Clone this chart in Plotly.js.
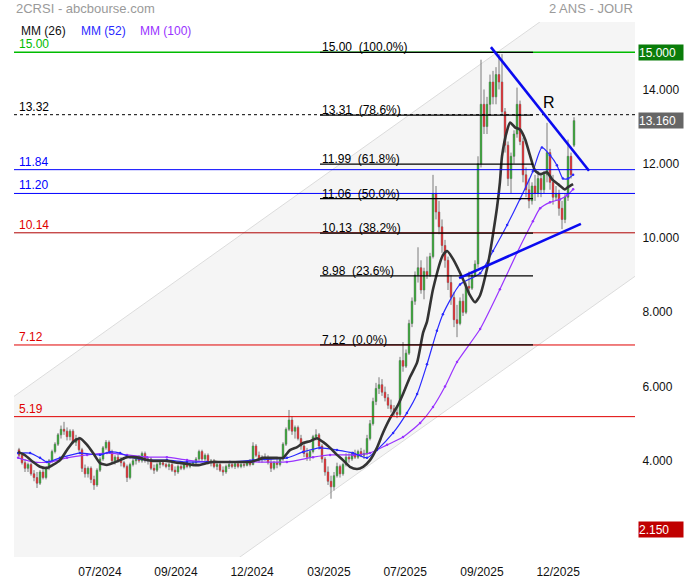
<!DOCTYPE html>
<html><head><meta charset="utf-8">
<script src="https://cdn.plot.ly/plotly-3.0.1.min.js"></script>
<style>html,body{margin:0;padding:0;background:#fff}#chart{width:684px;height:580px}</style>
</head><body><div id="chart"></div>
<script>
// ---- daily bars ----
const opens=[4.30,4.15,3.95,3.80,3.90,3.65,3.55,3.40,3.70,3.55,
3.80,4.00,4.25,4.45,4.70,4.85,4.80,4.65,4.80,4.50,
4.60,4.30,3.80,3.65,3.80,3.50,3.35,3.75,4.05,4.35,
4.50,4.25,4.00,4.10,4.00,3.95,3.85,3.55,3.90,4.00,
4.05,4.00,4.20,4.00,4.05,3.80,3.75,3.90,3.95,3.90,
3.85,3.90,3.75,3.70,3.85,3.80,3.90,3.85,3.90,3.95,
4.05,4.25,4.05,4.15,3.95,4.00,3.85,3.90,3.75,3.70,
3.85,3.90,3.85,3.92,3.85,3.90,3.88,3.95,3.90,4.40,
4.15,4.05,4.10,4.05,3.95,3.80,3.95,3.90,4.05,4.45,
4.85,5.10,4.80,4.90,4.60,4.40,4.20,4.10,4.25,4.65,
4.70,4.40,4.05,3.70,3.45,3.30,3.60,3.85,3.65,3.90,
4.10,4.05,4.20,4.10,4.25,4.15,4.20,4.60,5.00,5.60,
5.95,6.05,5.85,5.70,5.50,5.40,5.30,5.25,6.70,6.55,
6.90,7.70,8.30,9.00,9.20,8.60,9.10,9.00,9.50,11.20,
10.70,10.30,9.80,9.40,8.80,8.40,7.80,7.70,8.30,8.00,
8.70,8.65,9.00,9.30,12.00,13.60,13.00,13.60,14.20,13.80,
14.40,14.20,13.40,12.50,11.60,12.20,12.80,13.60,12.60,11.70,
11.30,11.00,11.40,11.20,11.60,11.30,11.70,12.30,11.50,11.10,
11.20,10.80,10.50,11.10,12.20,12.50];
const highs=[4.35,4.20,4.05,3.95,3.95,3.75,3.70,3.75,3.80,3.85,
4.05,4.30,4.50,4.75,4.95,5.05,4.90,4.85,4.85,4.70,
4.65,4.35,3.90,3.85,3.85,3.60,3.80,4.10,4.40,4.56,
4.55,4.30,4.15,4.20,4.10,4.00,3.90,3.95,4.05,4.10,
4.15,4.25,4.25,4.10,4.10,3.90,3.95,4.00,4.00,3.95,
3.95,3.95,3.85,3.90,3.90,3.95,3.95,3.95,4.00,4.10,
4.30,4.30,4.20,4.20,4.05,4.05,3.95,3.95,3.85,3.90,
3.95,3.95,3.95,3.98,3.95,3.98,4.00,4.05,4.50,4.45,
4.25,4.15,4.20,4.15,4.10,4.00,4.05,4.10,4.50,4.90,
5.37,5.20,4.95,4.95,4.70,4.45,4.35,4.30,4.70,4.85,
4.75,4.45,4.10,3.85,3.60,3.70,3.95,3.90,3.95,4.20,
4.20,4.25,4.30,4.30,4.35,4.30,4.70,5.10,5.70,6.10,
6.25,6.20,6.00,5.80,5.65,5.50,5.45,6.80,7.20,7.00,
7.80,8.40,9.10,9.75,9.40,9.20,9.50,9.60,11.70,11.40,
11.00,10.50,9.95,9.50,9.00,8.55,8.20,8.40,8.50,8.80,
9.10,9.10,9.40,12.20,14.80,14.00,13.80,14.40,14.50,14.60,
14.95,14.95,13.50,12.60,12.30,12.90,14.05,13.70,12.70,11.90,
11.60,11.50,11.70,11.80,11.75,11.80,13.10,12.40,11.70,11.40,
11.30,11.00,11.20,12.65,12.30,13.25];
const lows=[4.10,3.90,3.70,3.70,3.60,3.45,3.27,3.35,3.50,3.50,
3.75,3.95,4.20,4.40,4.60,4.70,4.55,4.55,4.45,4.40,
4.25,3.70,3.55,3.55,3.40,3.22,3.30,3.70,4.00,4.30,
4.20,3.95,3.90,3.95,3.85,3.80,3.43,3.50,3.85,3.90,
3.95,3.95,3.95,3.90,3.75,3.65,3.70,3.80,3.85,3.80,
3.75,3.70,3.60,3.65,3.75,3.75,3.80,3.80,3.85,3.90,
4.00,4.00,3.95,3.90,3.85,3.80,3.75,3.70,3.60,3.65,
3.78,3.80,3.78,3.80,3.80,3.82,3.85,3.85,3.88,4.10,
3.95,3.95,4.00,3.90,3.70,3.75,3.80,3.85,4.00,4.40,
4.80,4.70,4.60,4.55,4.30,4.10,4.00,4.00,4.20,4.55,
4.30,3.95,3.60,3.35,2.98,3.20,3.55,3.55,3.60,3.85,
3.95,4.00,4.05,4.05,4.10,4.05,4.15,4.55,4.95,5.50,
5.80,5.75,5.60,5.40,5.30,5.20,5.15,5.20,6.40,6.50,
6.85,7.60,8.20,8.80,8.50,8.35,8.90,8.95,9.45,10.50,
10.10,9.60,9.20,8.60,8.20,7.60,7.33,7.65,7.90,7.95,
8.50,8.60,8.95,9.20,11.90,12.80,12.80,13.30,13.60,13.60,
14.00,13.30,12.30,11.40,11.20,12.00,12.70,12.50,11.50,11.10,
10.80,10.90,11.00,11.10,11.10,11.20,11.50,11.30,10.90,11.00,
10.60,10.24,10.40,11.00,11.60,12.45];
const closes=[4.15,3.95,3.80,3.90,3.65,3.55,3.40,3.70,3.55,3.80,
4.00,4.25,4.45,4.70,4.85,4.80,4.65,4.80,4.50,4.60,
4.30,3.80,3.65,3.80,3.50,3.35,3.75,4.05,4.35,4.50,
4.25,4.00,4.10,4.00,3.95,3.85,3.55,3.90,4.00,4.05,
4.00,4.20,4.00,4.05,3.80,3.75,3.90,3.95,3.90,3.85,
3.90,3.75,3.70,3.85,3.80,3.90,3.85,3.90,3.95,4.05,
4.25,4.05,4.15,3.95,4.00,3.85,3.90,3.75,3.70,3.85,
3.90,3.85,3.92,3.85,3.90,3.88,3.95,3.90,4.40,4.15,
4.05,4.10,4.05,3.95,3.80,3.95,3.90,4.05,4.45,4.85,
5.10,4.80,4.90,4.60,4.40,4.20,4.10,4.25,4.65,4.70,
4.40,4.05,3.70,3.45,3.30,3.60,3.85,3.65,3.90,4.10,
4.05,4.20,4.10,4.25,4.15,4.20,4.60,5.00,5.60,5.95,
6.05,5.85,5.70,5.50,5.40,5.30,5.25,6.70,6.55,6.90,
7.70,8.30,9.00,9.20,8.60,9.10,9.00,9.50,11.20,10.70,
10.30,9.80,9.40,8.80,8.40,7.80,7.70,8.30,8.00,8.70,
8.65,9.00,9.30,12.00,13.60,13.00,13.60,14.20,13.80,14.40,
14.20,13.40,12.50,11.60,12.20,12.80,13.60,12.60,11.70,11.30,
11.00,11.40,11.20,11.60,11.30,11.70,12.30,11.50,11.10,11.20,
10.80,10.50,11.10,12.20,11.70,13.16];

// ---- moving averages (bar index, value) ----
const mm26Idx=[-0.3,2,4.7,7,9.3,11.3,13.7,16,18,20.3,22.7,24.7,27,29.3,31.3,33.7,36,38,40.3,42.7,44.7,47,49.3,51.3,53.7,56,58,60.3,62.7,64.7,67,70.3,73.7,77,79.3,81.3,83.7,86,88,90.3,92.7,94.7,97,99.3,101.3,103.7,106,108,110.3,112.7,114.7,117,119.3,121.3,123.7,126,128,130.3,132.7,134.7,136,138,141.3,142.7,144.7,148,150.3,152,153.7,156,157,158,159.3,160.3,161,162.7,163.7,165.3,167,168.7,170.3,172,173.7,176,177.7,179.7,182,183,184.7];
const mm26Val=[4.24,4.15,3.97,3.84,3.81,3.89,4.02,4.29,4.51,4.61,4.43,4.21,3.94,3.89,3.94,4.02,4.10,4.10,4.08,4.02,4.00,4.00,4.00,3.97,3.94,3.92,3.89,3.89,3.94,3.97,3.97,3.97,3.97,3.97,4.02,4.08,4.08,4.08,4.08,4.29,4.37,4.48,4.53,4.61,4.51,4.35,4.16,4.02,3.84,3.78,3.84,4.02,4.35,4.75,5.15,5.45,5.80,6.25,6.65,7.45,7.75,8.62,9.54,9.65,9.43,8.89,8.46,8.27,8.46,9.17,9.60,10.10,10.80,11.50,12.20,12.90,13.11,12.98,12.92,12.66,12.23,11.82,11.72,11.77,11.58,11.45,11.31,11.37,11.45];
const mm52Idx=[-0.3,3.7,7,9.3,13.7,20.3,27,30.3,33.7,37,42.7,49.3,56,62.7,70.3,78,89.3,94.7,100.3,106,111.3,116,119.3,124.7,129.3,132.7,136,139.3,141.3,147,153.7,158,162.7,167,171.3,174.3,177,179.3,181.3,183,184.7];
const mm52Val=[4.21,4.21,4.08,3.97,4.08,4.21,4.16,4.24,4.21,4.10,4.02,4.02,3.97,3.97,3.97,4.02,4.08,4.24,4.35,4.29,4.21,4.08,4.29,4.75,5.29,5.80,6.60,7.50,7.95,8.75,9.05,9.65,10.35,11.05,11.80,12.44,12.23,11.96,11.60,11.60,11.70];
const mm100Idx=[-0.3,4.7,10.3,16,22.7,29.3,36,42.7,49.3,56,62.7,70.3,78,89.3,98,103.7,111.3,117,122.7,128,133.7,138,142,146,153.7,160.3,166,171.3,173.7,177,180.3,182.7,184.7];
const mm100Val=[4.08,3.97,3.97,4.08,4.16,4.21,4.16,4.10,4.10,4.02,3.97,3.97,3.97,3.97,4.10,4.16,4.16,4.21,4.43,4.64,5.02,5.45,6.00,6.66,7.55,8.62,9.60,10.45,10.80,10.96,11.04,11.15,11.31];

// ---- axis ticks ----
const tickIdx=[27,52.3,77.7,103.3,128.7,154.3,179.7];
const tickLabels=['07/2024','09/2024','12/2024','03/2025','07/2025','09/2025','12/2025'];
const yTicks=[4,6,8,10,12,14];

// ---- horizontal levels ----
const levelValues=[15.00,13.32,11.84,11.20,10.14,7.12,5.19];
const levelColors=['#00bb00','#000000','#0000ff','#0000ff','#b00000','#e00000','#e00000'];
const levelLabelColors=['#00bb00','#000000','#0000ff','#0000ff','#e00000','#e00000','#e00000'];
const levelDash=['solid','dot','solid','solid','solid','solid','solid'];
// ---- fibonacci ----
const fibValues=[15.00,13.31,11.99,11.06,10.13,8.98,7.12];
const fibPct=['100.0%','78.6%','61.8%','50.0%','38.2%','23.6%','0.0%'];
const fibSpan=[100.33,171.33];
// ---- drawn lines ----
const channelUpper=[[-2,5.716],[206,17.68]];
const channelLower=[[-2,-2.93],[206,9.007]];
const trendDown=[[157.3,15.14],[190,11.81]];
const trendUp=[[146.7,8.92],[187.3,10.38]];
// ---- right-hand boxes ----
const boxValues=[15.000,13.160,2.150];
const boxColors=['#0a7d0a','#666666','#c00000'];

const idx=closes.map((_,i)=>i);
const FONT='Liberation Sans, Arial, sans-serif';

const traces=[
 {type:'candlestick',x:idx,open:opens,high:highs,low:lows,close:closes,
  increasing:{line:{color:'#7a7a7a',width:1},fillcolor:'#7a7a7a'},
  decreasing:{line:{color:'#7a7a7a',width:1},fillcolor:'#7a7a7a'},
  whiskerwidth:0,hoverinfo:'skip',showlegend:false},
 {type:'candlestick',x:idx,open:opens,high:highs,low:lows,close:closes,
  increasing:{line:{color:'#2fa82f',width:0},fillcolor:'#2fa82f'},
  decreasing:{line:{color:'#e8262b',width:0},fillcolor:'#e8262b'},
  whiskerwidth:0,hoverinfo:'skip',showlegend:false},
 {type:'scatter',mode:'lines+markers',x:mm100Idx,y:mm100Val,line:{color:'#9933ff',width:1.2,shape:'spline',smoothing:0.6},marker:{size:2.5,color:'#9933ff'},hoverinfo:'skip',showlegend:false},
 {type:'scatter',mode:'lines+markers',x:mm52Idx,y:mm52Val,line:{color:'#2a2aff',width:1.2,shape:'spline',smoothing:0.6},marker:{size:2.5,color:'#2a2aff'},hoverinfo:'skip',showlegend:false},
 {type:'scatter',mode:'lines',x:mm26Idx,y:mm26Val,line:{color:'#333333',width:2.6,shape:'spline',smoothing:0.6},hoverinfo:'skip',showlegend:false}
];

const shapes=[];
shapes.push({type:'path',xref:'x',yref:'y',layer:'below',
 path:`M ${channelUpper[0][0]},${channelUpper[0][1]} L ${channelUpper[1][0]},${channelUpper[1][1]} L ${channelLower[1][0]},${channelLower[1][1]} L ${channelLower[0][0]},${channelLower[0][1]} Z`,
 fillcolor:'#f5f5f5',line:{width:0}});
[channelUpper,channelLower].forEach(c=>shapes.push({type:'line',xref:'x',yref:'y',layer:'below',x0:c[0][0],y0:c[0][1],x1:c[1][0],y1:c[1][1],line:{color:'#dcdcdc',width:1}}));
levelValues.forEach((v,k)=>shapes.push({type:'line',xref:'paper',yref:'y',x0:0,x1:1,y0:v,y1:v,line:{color:levelColors[k],width:k===0?1.5:1,dash:levelDash[k]}}));
fibValues.forEach(v=>shapes.push({type:'line',xref:'x',yref:'y',x0:fibSpan[0],x1:fibSpan[1],y0:v,y1:v,line:{color:'#000',width:1.2}}));
[trendDown,trendUp].forEach(t=>shapes.push({type:'line',xref:'x',yref:'y',x0:t[0][0],y0:t[0][1],x1:t[1][0],y1:t[1][1],line:{color:'#0a0af0',width:2.6}}));

const ann=[];
ann.push({xref:'paper',yref:'paper',x:0,y:1.0243,xanchor:'left',yanchor:'middle',showarrow:false,text:'2CRSI - abcbourse.com',font:{family:FONT,size:13,color:'#9a9a9a'}});
ann.push({xref:'paper',yref:'paper',x:1,y:1.0243,xanchor:'right',yanchor:'middle',showarrow:false,text:'2 ANS - JOUR',font:{family:FONT,size:13,color:'#9a9a9a'}});
const legNames=['MM (26)','MM (52)','MM (100)'], legCols=['#111111','#2a2aff','#9933ff'], legX=[0.0075,0.1046,0.2];
legNames.forEach((n,k)=>ann.push({xref:'paper',yref:'paper',x:legX[k],y:0.984,xanchor:'left',yanchor:'middle',showarrow:false,text:n,font:{family:FONT,size:12,color:legCols[k]}}));
levelValues.forEach((v,k)=>ann.push({xref:'paper',yref:'y',x:0,xshift:3,y:v,yanchor:'bottom',yshift:-1,xanchor:'left',showarrow:false,text:v.toFixed(2),font:{family:FONT,size:12,color:levelLabelColors[k]}}));
fibValues.forEach((v,k)=>ann.push({xref:'x',yref:'y',x:fibSpan[0],y:v,xanchor:'left',yanchor:'bottom',yshift:-4,showarrow:false,text:v.toFixed(2)+'\u00a0\u00a0('+fibPct[k]+')',font:{family:FONT,size:12,color:'#000'}}));
ann.push({xref:'x',yref:'y',x:176.7,y:13.66,showarrow:false,text:'R',font:{family:FONT,size:16,color:'#000'}});
boxValues.forEach((v,k)=>ann.push({xref:'paper',yref:'y',x:1,xshift:3,y:v,xanchor:'left',yanchor:'middle',showarrow:false,text:v.toFixed(3),bgcolor:boxColors[k],width:44,height:15,align:'left',borderpad:0,font:{family:FONT,size:12,color:'#fff'}}));

const layout={
 width:684,height:580,
 margin:{l:14,r:49,t:22,b:23},
 paper_bgcolor:'#ffffff',plot_bgcolor:'#ffffff',
 showlegend:false,
 xaxis:{range:[-1.667,205.33],showgrid:false,zeroline:false,showline:false,
  tickvals:tickIdx,ticktext:tickLabels,ticks:'outside',ticklen:4,tickcolor:'rgba(0,0,0,0)',
  tickfont:{family:FONT,size:12,color:'#111'},rangeslider:{visible:false},fixedrange:true},
 yaxis:{range:[1.411,15.816],side:'right',showgrid:false,zeroline:false,showline:false,
  tickvals:yTicks,ticktext:yTicks.map(v=>v.toFixed(3)),ticks:'outside',ticklen:4,tickcolor:'rgba(0,0,0,0)',
  tickfont:{family:FONT,size:12,color:'#111'},fixedrange:true},
 shapes:shapes,annotations:ann
};
Plotly.newPlot('chart',traces,layout,{staticPlot:true,displayModeBar:false});
</script></body></html>
